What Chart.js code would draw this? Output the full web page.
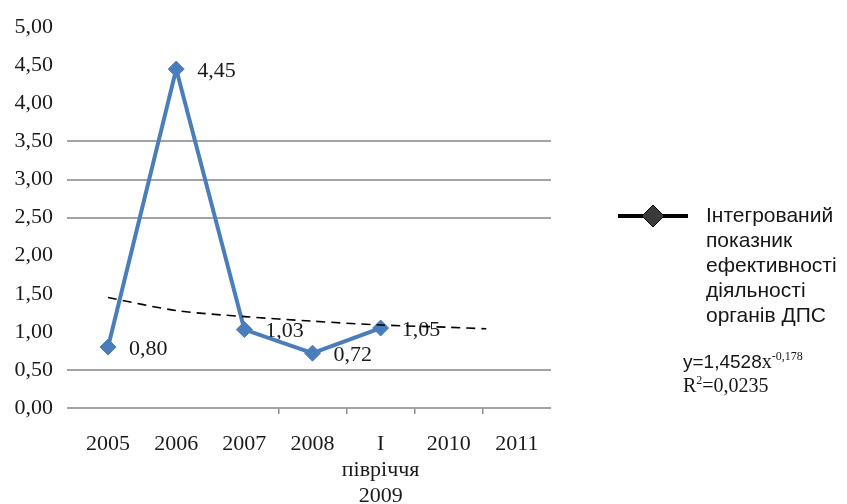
<!DOCTYPE html>
<html>
<head>
<meta charset="utf-8">
<script src="https://cdn.jsdelivr.net/npm/chart.js@4.4.1/dist/chart.umd.min.js"></script>
<style>
  html, body { margin: 0; padding: 0; background: #ffffff; }
  #wrap { position: relative; width: 847px; height: 504px; overflow: hidden; background: #ffffff; }
  #c { position: absolute; left: 0; top: 0; }
  .legend-key { position: absolute; left: 617px; top: 204px; }
  .legend-text {
    position: absolute; left: 706px; top: 202px;
    font-family: "Liberation Sans", Arial, sans-serif; font-size: 21px; line-height: 25px;
    color: #161616; white-space: nowrap;
  }
  .eq { position: absolute; left: 683px; top: 351px; line-height: 21px; color: #161616; white-space: nowrap; }
  .eq .sans { font-family: "Liberation Sans", Arial, sans-serif; font-size: 19px; }
  .eq .serif { font-family: "Liberation Serif", "Times New Roman", serif; font-size: 20px; }
  .eq sup { font-size: 12px; vertical-align: 0; position: relative; top: -8px; }
</style>
</head>
<body>
<div id="wrap">
  <canvas id="c" width="847" height="504"></canvas>
  <svg class="legend-key" width="72" height="24" viewBox="0 0 72 24">
    <line x1="1" y1="12" x2="71" y2="12" stroke="#000" stroke-width="4"/>
    <polygon points="36,1 47,12 36,23 25,12" fill="#3a3a3a" stroke="#000" stroke-width="1"/>
  </svg>
  <div class="legend-text" id="legendText"></div>
  <div class="eq">
    <span class="sans">y=1,4528</span><span class="serif">x<sup>-0,178</sup></span><br>
    <span class="serif">R<sup>2</sup>=0,0235</span>
  </div>
</div>
<script>
// Categories (the fifth one is the first half of 2009, written on three lines)
const categories = ['2005', '2006', '2007', '2008', ['I', 'півріччя', '2009'], '2010', '2011'];

// Integrated efficiency index of the tax service bodies
const indexValues = [0.80, 4.45, 1.03, 0.72, 1.05, null, null];

// Power trend y = 1,4528·x^-0,178, sampled along the category positions (1 = 2005)
const trendX = [1, 2, 3, 4, 5, 6, 6.55];
const trendY = [1.45, 1.28, 1.20, 1.14, 1.09, 1.06, 1.04];

// Value axis ticks and the levels that carry a horizontal rule
const yTickValues = [0, 0.5, 1, 1.5, 2, 2.5, 3, 3.5, 4, 4.5, 5];
const ruledLevels = [0, 0.5, 2.5, 3.0, 3.5];

const seriesLines = ['Інтегрований', 'показник', 'ефективності', 'діяльності', 'органів ДПС'];

document.getElementById('legendText').innerHTML = seriesLines.join('<br>');

const fmt = v => Number(v).toFixed(2).replace('.', ',');
const serif = '"Liberation Serif", "Times New Roman", serif';

// Writes each value to the right of its marker
const valueLabels = {
  id: 'valueLabels',
  beforeDatasetsDraw(chart) {
    const meta = chart.getDatasetMeta(1);
    const ctx = chart.ctx;
    ctx.save();
    ctx.font = '22px ' + serif;
    ctx.fillStyle = '#1a1a1a';
    ctx.textAlign = 'left';
    ctx.textBaseline = 'middle';
    meta.data.forEach((pt, i) => {
      const v = indexValues[i];
      if (v === null || v === undefined) return;
      ctx.fillText(fmt(v), pt.x + 21, pt.y + 2);
    });
    ctx.restore();
  }
};

new Chart(document.getElementById('c'), {
  type: 'line',
  data: {
    labels: categories,
    datasets: [
      {
        label: 'trend',
        xAxisID: 'xt',
        data: trendX.map((x, i) => ({ x: x, y: trendY[i] })),
        borderColor: '#000000',
        borderWidth: 1.6,
        borderDash: [9, 6],
        pointRadius: 0,
        fill: false,
        tension: 0.3
      },
      {
        label: seriesLines.join(' '),
        xAxisID: 'x',
        data: indexValues,
        borderColor: '#4a7ebb',
        backgroundColor: '#4a7ebb',
        borderWidth: 4,
        pointStyle: 'rectRot',
        pointRadius: 8,
        pointBackgroundColor: '#4a7ebb',
        pointBorderColor: '#4a7ebb',
        pointBorderWidth: 1,
        tension: 0,
        fill: false
      }
    ]
  },
  options: {
    responsive: false,
    animation: false,
    layout: { padding: { top: 27, right: 296, left: 0, bottom: 0 } },
    plugins: { legend: { display: false }, tooltip: { enabled: false } },
    scales: {
      x: {
        type: 'category',
        offset: true,
        border: { display: false },
        grid: {
          offset: true,
          drawOnChartArea: false,
          drawTicks: true,
          tickLength: 6,
          lineWidth: 1.5,
          color: c => (c.index >= 3 && c.index <= 6) ? '#8c8c8c' : 'rgba(0,0,0,0)'
        },
        ticks: {
          font: { family: serif, size: 22, lineHeight: '26px' },
          color: '#1a1a1a',
          padding: 17,
          autoSkip: false,
          maxRotation: 0,
          minRotation: 0
        },
        afterFit(s) { s.height = 96; }
      },
      xt: { type: 'linear', display: false, min: 0.5, max: 7.5 },
      y: {
        min: 0,
        max: 5,
        border: { display: false },
        afterBuildTicks(s) { s.ticks = yTickValues.map(v => ({ value: v })); },
        ticks: {
          callback: v => fmt(v),
          font: { family: serif, size: 22 },
          color: '#1a1a1a',
          padding: 14
        },
        grid: {
          tickLength: 7,
          lineWidth: 2,
          color: c => (c.tick && ruledLevels.some(l => Math.abs(l - c.tick.value) < 1e-6)) ? '#a3a3a3' : 'rgba(0,0,0,0)'
        },
        afterFit(s) { s.width = 74; }
      }
    }
  },
  plugins: [valueLabels]
});
</script>
</body>
</html>
